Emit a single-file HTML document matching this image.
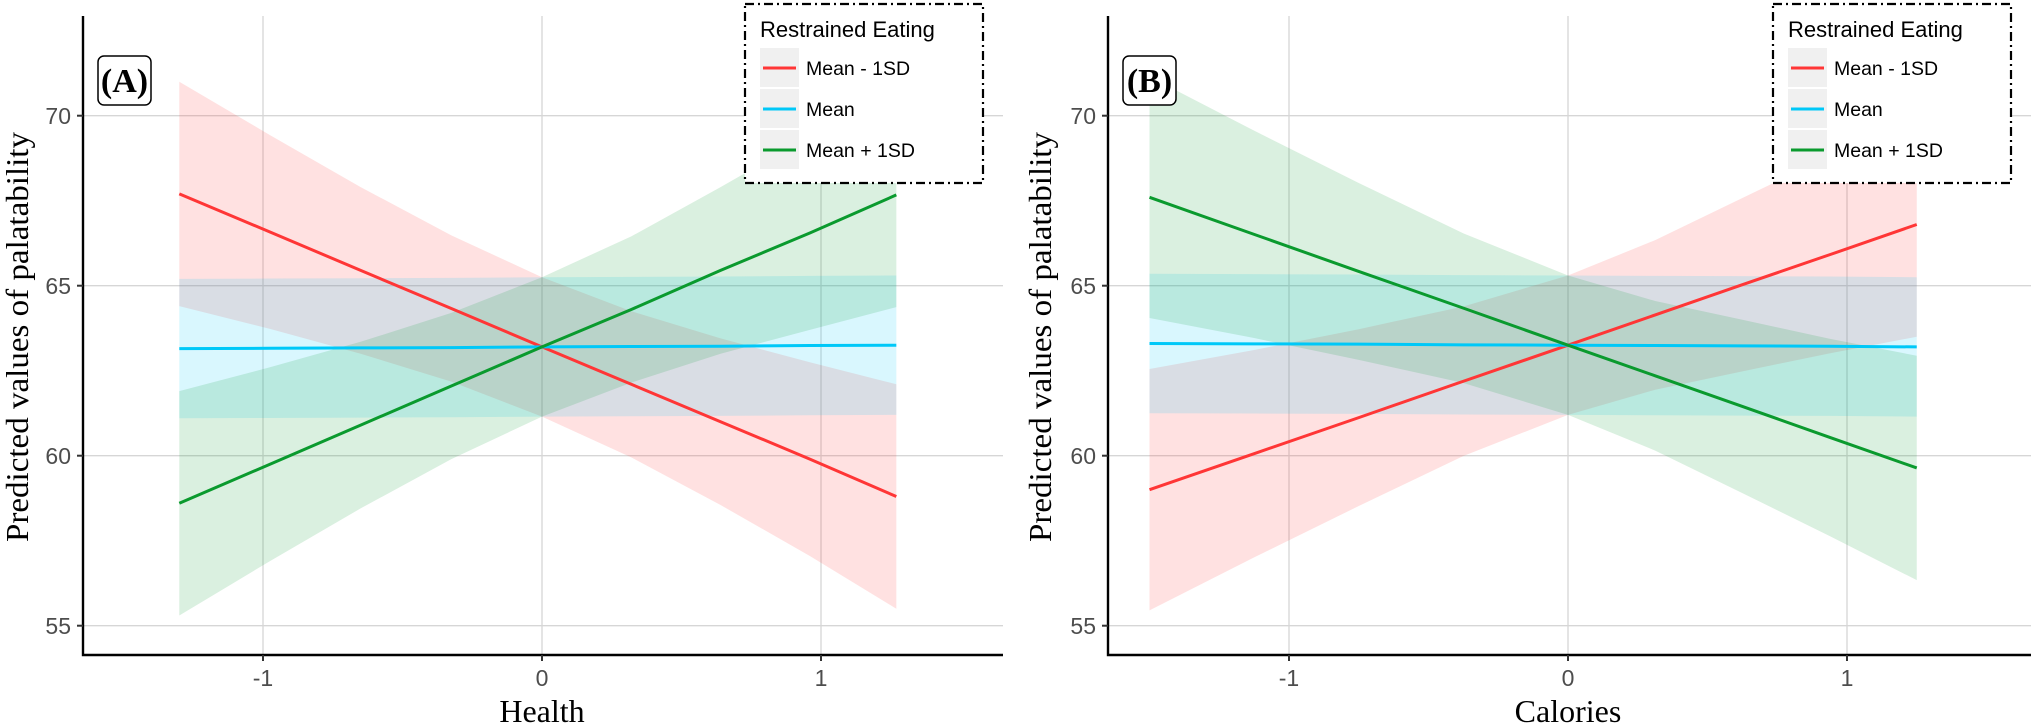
<!DOCTYPE html>
<html><head><meta charset="utf-8"><style>
html,body{margin:0;padding:0;background:#fff;}
svg{display:block;}
.tick{font-family:"Liberation Sans",sans-serif;font-size:23px;fill:#4d4d4d;}
.ttl{font-family:"Liberation Serif",serif;font-size:32px;fill:#000;}
.leg{font-family:"Liberation Sans",sans-serif;fill:#000;}
</style></head><body>
<svg id="chart" width="2032" height="726" viewBox="0 0 2032 726" xmlns="http://www.w3.org/2000/svg"></svg>
<script>
const yTicks = [55, 60, 65, 70];
const xTicks = [-1, 0, 1];
const seriesNames = ["Mean - 1SD", "Mean", "Mean + 1SD"];
const seriesColors = ["#ff3636", "#00c8f8", "#0a9a2e"];
// Panel A (Health)
const xA = [-1.3, -0.975, -0.65, -0.325, 0, 0.32, 0.64, 0.96, 1.27];
const lowA  = [67.7, 66.58, 65.45, 64.33, 63.2, 62.1, 61.0, 59.9, 58.8];
const meanA = [63.15, 63.16, 63.17, 63.18, 63.2, 63.21, 63.22, 63.24, 63.25];
const highA = [58.6, 59.75, 60.9, 62.05, 63.2, 64.3, 65.45, 66.55, 67.67];
const halfA = [3.3, 2.85, 2.45, 2.15, 2.05, 2.15, 2.45, 2.85, 3.3];
const meanBandA = [2.05, 2.05, 2.05, 2.05, 2.05, 2.05, 2.05, 2.05, 2.05];
// Panel B (Calories)
const xB = [-1.5, -1.125, -0.75, -0.375, 0, 0.3125, 0.625, 0.9375, 1.25];
const lowB  = [59.0, 60.06, 61.12, 62.19, 63.25, 64.14, 65.03, 65.91, 66.8];
const meanB = [63.3, 63.29, 63.28, 63.26, 63.25, 63.24, 63.23, 63.22, 63.2];
const highB = [67.6, 66.51, 65.42, 64.34, 63.25, 62.35, 61.45, 60.54, 59.64];
const halfB = [3.55, 3.05, 2.6, 2.2, 2.05, 2.2, 2.55, 2.9, 3.3];
const meanBandB = [2.05, 2.05, 2.05, 2.05, 2.05, 2.05, 2.05, 2.05, 2.05];

const NS = "http://www.w3.org/2000/svg";
const svg = document.getElementById("chart");
function mk(tag, attrs, parent) {
  const e = document.createElementNS(NS, tag);
  for (const k in attrs) e.setAttribute(k, attrs[k]);
  (parent || svg).appendChild(e);
  return e;
}
function yS(v) { return 285.7 - (v - 65) * 34; }

function panel(cfg) {
  const g = mk("g", {});
  
  
  const xS = v => cfg.x0 + v * 279;
  const left = cfg.axisLeft, right = cfg.axisRight, top = 16, bottom = 655;
  yTicks.forEach(t => {
    const l = mk("line", {x1: left, x2: right, y1: yS(t), y2: yS(t), stroke: "#d6d6d6", "stroke-width": 1.3}, g);
    
    
  });
  xTicks.forEach(t => {
    const l = mk("line", {x1: xS(t), x2: xS(t), y1: top, y2: bottom, stroke: "#d6d6d6", "stroke-width": 1.3}, g);
    
    
  });
  const sets = [[cfg.low, cfg.half], [cfg.mean, cfg.meanBand], [cfg.high, cfg.half]];
  sets.forEach((s, i) => {
    const [c, h] = s;
    let pts = cfg.xs.map((x, j) => xS(x) + "," + yS(c[j] + h[j]));
    pts = pts.concat(cfg.xs.map((x, j) => xS(x) + "," + yS(c[j] - h[j])).reverse());
    const p = mk("polygon", {points: pts.join(" "), fill: seriesColors[i], "fill-opacity": 0.15}, g);
    
    
  });
  [cfg.low, cfg.mean, cfg.high].forEach((c, i) => {
    const pts = cfg.xs.map((x, j) => xS(x) + "," + yS(c[j])).join(" ");
    const p = mk("polyline", {points: pts, fill: "none", stroke: seriesColors[i], "stroke-width": 3}, g);
    
    
  });
  const ax = mk("polyline", {points: `${left},${top} ${left},${bottom} ${right},${bottom}`, fill: "none", stroke: "#000", "stroke-width": 2.4}, g);
  
  
  yTicks.forEach(t => {
    mk("line", {x1: left - 6, x2: left, y1: yS(t), y2: yS(t), stroke: "#333", "stroke-width": 2}, g);
    const tx = mk("text", {x: left - 12, y: yS(t) + 8.5, "text-anchor": "end", class: "tick"}, g);
    tx.textContent = t;
    
    
  });
  xTicks.forEach(t => {
    mk("line", {x1: xS(t), x2: xS(t), y1: bottom, y2: bottom + 6, stroke: "#333", "stroke-width": 2}, g);
    const tx = mk("text", {x: xS(t), y: 686, "text-anchor": "middle", class: "tick"}, g);
    tx.textContent = t;
    
    
  });
  const xt = mk("text", {x: cfg.x0, y: 722, "text-anchor": "middle", class: "ttl"}, g);
  xt.textContent = cfg.xTitle;
  
  
  const yt = mk("text", {x: 0, y: 0, "text-anchor": "middle", class: "ttl", textLength: 410, lengthAdjust: "spacingAndGlyphs", transform: `translate(${cfg.yTitleX},337) rotate(-90)`}, g);
  yt.textContent = "Predicted values of palatability";
  
  
  const tb = mk("rect", {x: cfg.tagX, y: 56, width: 53, height: 49, rx: 6, fill: "#fff", stroke: "#000", "stroke-width": 1.5}, g);
  
  
  const tt = mk("text", {x: cfg.tagX + 26.5, y: 92, "text-anchor": "middle", "font-family": '"Liberation Serif",serif', "font-weight": "bold", "font-size": "34px"}, g);
  tt.textContent = cfg.tag;
  
  
  const lg = mk("g", {}, g);
  
  
  mk("rect", {x: cfg.legX, y: 4, width: 238, height: 179, fill: "#fff", stroke: "#000", "stroke-width": 2.2, "stroke-dasharray": "9,4,2,4"}, lg);
  const lt = mk("text", {x: cfg.legX + 15, y: 37, class: "leg", "font-size": "22px"}, lg);
  lt.textContent = "Restrained Eating";
  
  
  const ys = [68, 109, 150];
  seriesNames.forEach((n, i) => {
    const e = mk("g", {}, lg);
    
    
    mk("rect", {x: cfg.legX + 15, y: ys[i] - 20, width: 39, height: 39, fill: "#f0f0f0"}, e);
    mk("line", {x1: cfg.legX + 18, x2: cfg.legX + 51, y1: ys[i], y2: ys[i], stroke: seriesColors[i], "stroke-width": 3}, e);
    const t = mk("text", {x: cfg.legX + 61, y: ys[i] + 7, class: "leg", "font-size": "19.5px"}, e);
    t.textContent = n;
  });
}
panel({name: "panel-a", x0: 542, axisLeft: 83, axisRight: 1003, xs: xA, low: lowA, mean: meanA, high: highA, half: halfA, meanBand: meanBandA, xTitle: "Health", yTitleX: 28, tag: "(A)", tagX: 98, legX: 745});
panel({name: "panel-b", x0: 1568, axisLeft: 1108, axisRight: 2031, xs: xB, low: lowB, mean: meanB, high: highB, half: halfB, meanBand: meanBandB, xTitle: "Calories", yTitleX: 1051, tag: "(B)", tagX: 1123, legX: 1773});
</script>
</body></html>
